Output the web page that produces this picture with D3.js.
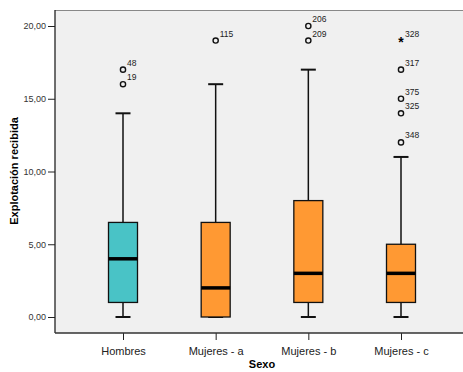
<!DOCTYPE html>
<html>
<head>
<meta charset="utf-8">
<script src="https://cdn.jsdelivr.net/npm/d3@7"></script>
<style>
  body { margin: 0; background: #fff; }
  text { font-family: Arial, "Liberation Sans", sans-serif; }
</style>
</head>
<body>
<div id="chart"></div>
<script>
// categories and box statistics
const groups = ['Hombres', 'Mujeres - a', 'Mujeres - b', 'Mujeres - c'];
const colors = ['#49c3c6', '#ff9933', '#ff9933', '#ff9933'];
const whiskerLow = [0, 0, 0, 0];
const q1 = [1, 0, 1, 1];
const medians = [4, 2, 3, 3];
const q3 = [6.5, 6.5, 8, 5];
const whiskerHigh = [14, 16, 17, 11];

// outliers: [group index, value, case label, extreme?]
const outliers = [
  [0, 17, '48', false], [0, 16, '19', false],
  [1, 19, '115', false],
  [2, 20, '206', false], [2, 19, '209', false],
  [3, 19, '328', true], [3, 17, '317', false], [3, 15, '375', false],
  [3, 14, '325', false], [3, 12, '348', false]
];
const yTicks = [0, 5, 10, 15, 20];

const W = 463, H = 372;
const plot = { left: 55, top: 10, right: 463, bottom: 333 };

const svg = d3.select('#chart').append('svg')
  .attr('width', W)
  .attr('height', H);

const y = d3.scaleLinear().domain([0, 20]).range([317, 26]);
const x = d3.scalePoint().domain(groups).range([123, 401]);

// plot background
svg.append('rect')
  .attr('x', plot.left).attr('y', plot.top)
  .attr('width', plot.right - plot.left).attr('height', plot.bottom - plot.top)
  .attr('fill', '#f0f0f0');
svg.append('line')
  .attr('x1', plot.left).attr('x2', plot.right)
  .attr('y1', plot.top + 0.5).attr('y2', plot.top + 0.5)
  .attr('stroke', '#888').attr('stroke-width', 1);

// y axis
const yAxis = svg.append('g')
  .attr('transform', `translate(${plot.left},0)`)
  .call(d3.axisLeft(y).tickValues(yTicks).tickSize(7).tickSizeOuter(0)
    .tickFormat(d => d3.format('.2f')(d).replace('.', ',')));
yAxis.select('.domain').remove();
yAxis.selectAll('.tick line').attr('stroke', '#222');
yAxis.selectAll('.tick text').attr('font-size', 9).attr('fill', '#333').attr('dx', 1);
svg.append('line')
  .attr('x1', plot.left).attr('x2', plot.left)
  .attr('y1', plot.top).attr('y2', plot.bottom)
  .attr('stroke', '#222').attr('stroke-width', 1.3);

// x axis
const xAxis = svg.append('g')
  .attr('transform', `translate(0,${plot.bottom})`)
  .call(d3.axisBottom(x).tickSize(7).tickSizeOuter(0));
xAxis.select('.domain').remove();
xAxis.selectAll('.tick line').attr('stroke', '#222');
xAxis.selectAll('.tick text').attr('font-size', 11).attr('fill', '#222').attr('dy', '1.05em');
svg.append('line')
  .attr('x1', plot.left).attr('x2', plot.right)
  .attr('y1', plot.bottom).attr('y2', plot.bottom)
  .attr('stroke', '#333').attr('stroke-width', 1.6);

// axis titles
svg.append('text')
  .attr('x', 262).attr('y', 368)
  .attr('text-anchor', 'middle')
  .attr('font-size', 11).attr('font-weight', 'bold')
  .text('Sexo');
svg.append('text')
  .attr('transform', 'translate(18,171) rotate(-90)')
  .attr('text-anchor', 'middle')
  .attr('font-size', 11).attr('font-weight', 'bold')
  .text('Explotación recibida');

// boxes
const boxW = 29, capW = 15;
const boxes = svg.append('g').selectAll('g')
  .data(groups)
  .enter()
  .append('g');

boxes.append('line')
  .attr('x1', d => x(d)).attr('x2', d => x(d))
  .attr('y1', (d, i) => y(whiskerLow[i])).attr('y2', (d, i) => y(whiskerHigh[i]))
  .attr('stroke', '#111').attr('stroke-width', 1.5);

boxes.selectAll('line.cap')
  .data((d, i) => [whiskerLow[i], whiskerHigh[i]].map(v => ({ g: d, v })))
  .enter()
  .append('line')
  .attr('class', 'cap')
  .attr('x1', d => x(d.g) - capW / 2).attr('x2', d => x(d.g) + capW / 2)
  .attr('y1', d => y(d.v)).attr('y2', d => y(d.v))
  .attr('stroke', '#111').attr('stroke-width', 2);

boxes.append('rect')
  .attr('x', d => x(d) - boxW / 2)
  .attr('y', (d, i) => y(q3[i]))
  .attr('width', boxW)
  .attr('height', (d, i) => y(q1[i]) - y(q3[i]))
  .attr('fill', (d, i) => colors[i])
  .attr('stroke', '#111').attr('stroke-width', 1.3);

boxes.append('line')
  .attr('x1', d => x(d) - boxW / 2).attr('x2', d => x(d) + boxW / 2)
  .attr('y1', (d, i) => y(medians[i])).attr('y2', (d, i) => y(medians[i]))
  .attr('stroke', '#000').attr('stroke-width', 3.5);

// outliers
const out = svg.append('g').selectAll('g')
  .data(outliers)
  .enter()
  .append('g')
  .attr('transform', d => `translate(${x(groups[d[0]])},${y(d[1])})`);

out.filter(d => !d[3]).append('circle')
  .attr('r', 2.6)
  .attr('fill', 'none')
  .attr('stroke', '#111').attr('stroke-width', 1.4);

out.filter(d => d[3]).append('text')
  .attr('text-anchor', 'middle')
  .attr('y', 6)
  .attr('font-size', 14).attr('font-weight', 'bold')
  .text('*');

out.append('text')
  .attr('x', 4).attr('y', -4)
  .attr('font-size', 8.5).attr('fill', '#222')
  .text(d => d[2]);
</script>
</body>
</html>
